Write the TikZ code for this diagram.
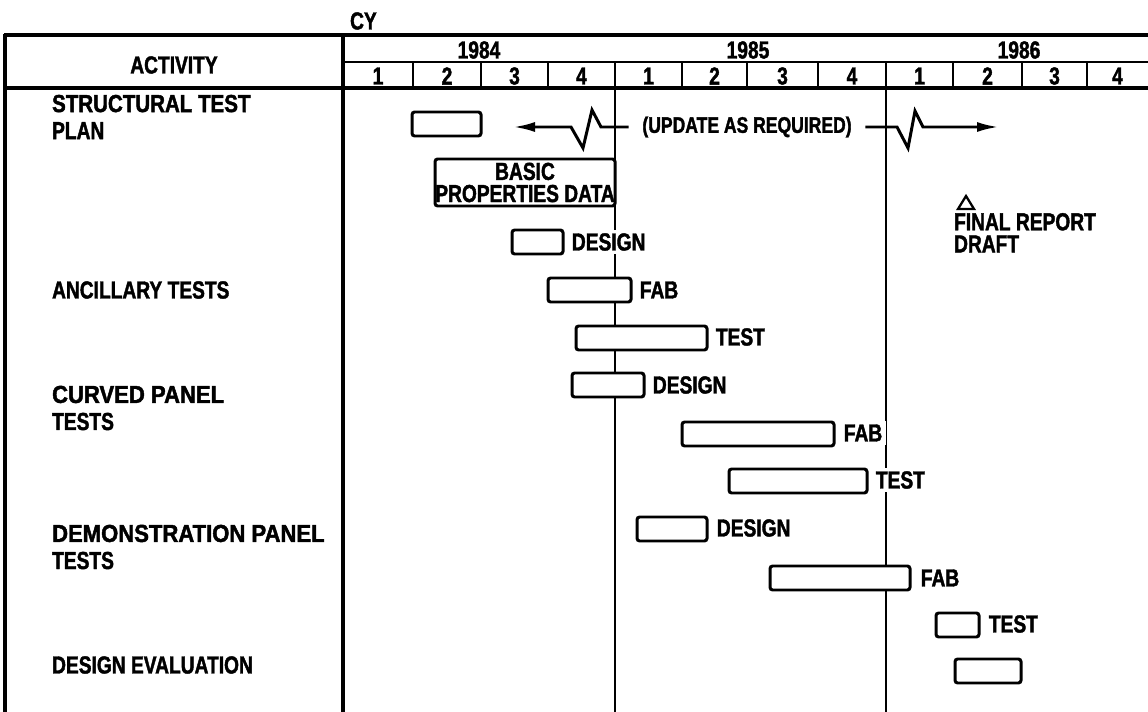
\documentclass[tikz,border=0pt]{standalone}
\usepackage{fontspec}
\newfontfamily\cfont{Liberation Sans}[FakeStretch=0.78, BoldFeatures={FakeBold=1.6}]
\usetikzlibrary{arrows.meta}
\tikzset{
  txt/.style={font=\cfont\bfseries\fontsize{14}{12}\selectfont, inner sep=1pt, align=center},
  two/.style={font=\cfont\bfseries\fontsize{14}{12.6}\selectfont},
  lbl/.style={txt, anchor=west, fill=white, inner sep=2pt},
  row/.style={txt, anchor=west, align=left, font=\cfont\bfseries\fontsize{14}{15.4}\selectfont},
  thickln/.style={line width=1.8pt},
  midln/.style={line width=1.2pt},
  thinln/.style={line width=0.8pt},
  bar/.style={draw, fill=white, line width=1.7pt, rounded corners=1.5pt, inner sep=0pt, outer sep=0pt, minimum height=24*0.02cm},
  arr/.style={line width=1.7pt, -{Latex[length=0.44cm, width=0.2cm]}},
}
\newcommand\gbar[4]{\node[bar, anchor=west, minimum width={(#3-#2)*0.02cm}] (#1) at (#2,#4) {};}
\begin{document}
\begin{tikzpicture}[x=0.02cm, y=-0.02cm]
\useasboundingbox (0,0) rectangle (1148,712);
% table frame
\draw[thickln] (4,35) -- (1148,35);
\draw[thickln] (4,88) -- (1148,88);
\draw[midln] (343,62) -- (1148,62);
\draw[thickln] (5,34) -- (5,712);
\draw[thickln] (343,35) -- (343,712);
\draw[thinln] (615,62) -- (615,712);
\draw[thinln] (886,62) -- (886,712);
\foreach \x in {413,481,548,682,747,818,953,1022,1087} \draw[thinln] (\x,62) -- (\x,88);
% header texts
\node[txt, anchor=west] (cy) at (348,21) {CY};
\node[txt] (act) at (174,65) {ACTIVITY};
\node[txt] (y84) at (479,50) {1984};
\node[txt] (y85) at (748,50) {1985};
\node[txt] (y86) at (1019,50) {1986};
\foreach \c/\q [count=\i] in {378/1,447/2,514.5/3,581.5/4,648.5/1,714.5/2,782.5/3,852/4,919.5/1,987.5/2,1054.5/3,1117.5/4}
  \node[txt] (q\i) at (\c,76) {\q};
% activities
\node[row] (r1) at (50,117) {\scalebox{1.07}[1]{STRUCTURAL TEST}\\PLAN};
\node[row] (r2) at (50,290) {ANCILLARY TESTS};
\node[row] (r3) at (50,408) {\scalebox{1.15}[1]{CURVED PANEL}\\TESTS};
\node[row] (r4) at (50,547) {\scalebox{1.15}[1]{DEMONSTRATION PANEL}\\TESTS};
\node[row] (r5) at (50,665) {DESIGN EVALUATION};
% bars
\gbar{sp}{412}{481}{124}
\node[bar, txt, two, anchor=north west, minimum width=180*0.02cm, minimum height=47*0.02cm, inner sep=0pt] (bp) at (435,159) {BASIC\\PROPERTIES DATA};
\gbar{ad}{512}{563}{242}
\gbar{af}{548}{631}{290}
\gbar{at}{576}{707}{338}
\gbar{cd}{572}{644}{385}
\gbar{cf}{682}{834}{434}
\gbar{ct}{729}{867}{481}
\gbar{dd}{637}{707}{529}
\gbar{df}{770}{910}{578}
\gbar{dt}{936}{979}{625}
\gbar{de}{955}{1021}{671}
\node[lbl] (adl) at (568,242) {DESIGN};
\node[lbl] (afl) at (636,290) {FAB};
\node[lbl] (atl) at (712,337) {TEST};
\node[lbl] (cdl) at (649,385) {DESIGN};
\node[lbl] (cfl) at (840,433) {FAB};
\node[lbl] (ctl) at (872,480) {TEST};
\node[lbl] (ddl) at (713,528) {DESIGN};
\node[lbl] (dfl) at (917,578) {FAB};
\node[lbl] (dtl) at (985,624) {TEST};
% update arrow
\node[txt, fill=white, inner sep=2pt, font=\cfont\bfseries\fontsize{12.8}{13}\selectfont] (upd) at (747,127) {(UPDATE AS REQUIRED)};
\coordinate (la) at (513,127);
\coordinate (ra) at (999,127);
\draw[arr] ([xshift=-0.2cm]upd.west) -- (601,127) -- (592,110) -- (583,148) -- (571,127) -- (la);
\draw[arr] ([xshift=0.2cm]upd.east) -- (897,127) -- (908,148) -- (915,111) -- (923,127) -- (ra);
% final report milestone
\coordinate (tri) at (966,203);
\draw[line width=1.3pt, line join=miter] ([shift={(-8,6)}]tri) -- ([shift={(0,-7)}]tri) -- ([shift={(8,6)}]tri) -- cycle;
\node[txt, two, anchor=north west, align=left] (fr) at (952,211) {FINAL REPORT\\DRAFT};
\end{tikzpicture}
\end{document}
